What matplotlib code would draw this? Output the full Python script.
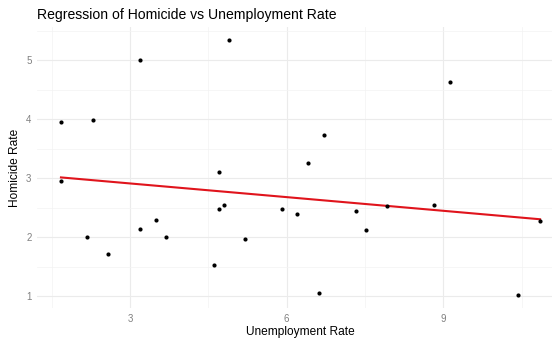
import numpy as np
import matplotlib
matplotlib.use("Agg")
import matplotlib.pyplot as plt
from matplotlib.ticker import MultipleLocator

plt.rcParams["font.family"] = ["Liberation Sans", "DejaVu Sans"]

unemployment = [1.68, 1.68, 2.29, 2.18, 2.58, 3.19, 3.19, 3.49, 3.69, 4.60,
                4.70, 4.70, 4.80, 4.90, 5.20, 5.91, 6.20, 6.41, 6.71, 6.62,
                7.32, 7.52, 7.92, 8.82, 9.13, 10.43, 10.85]
homicide = [3.96, 2.95, 3.99, 2.01, 1.72, 5.00, 2.15, 2.29, 2.01, 1.54,
            3.11, 2.49, 2.55, 5.35, 1.98, 2.48, 2.40, 3.26, 3.73, 1.06,
            2.45, 2.12, 2.54, 2.55, 4.64, 1.02, 2.27]

x = np.array(unemployment)
y = np.array(homicide)
slope, intercept = np.polyfit(x, y, 1)

W, H = 552, 340
fig = plt.figure(figsize=(W / 100, H / 100), dpi=100)
# panel runs a little past the right edge
left, right, top, bottom = 37, 564, 27, 308
ax = fig.add_axes([left / W, 1 - bottom / H, (right - left) / W, (bottom - top) / H])

xr = x.max() - x.min()
yr = y.max() - y.min()
ax.set_xlim(x.min() - 0.05 * xr, x.max() + 0.05 * xr)
ax.set_ylim(y.min() - 0.05 * yr, y.max() + 0.05 * yr)

ax.xaxis.set_major_locator(MultipleLocator(3))
ax.xaxis.set_minor_locator(MultipleLocator(1.5))
ax.yaxis.set_major_locator(MultipleLocator(1))
ax.yaxis.set_minor_locator(MultipleLocator(0.5))
ax.grid(which="major", color="#ebebeb", linewidth=0.8)
ax.grid(which="minor", color="#f3f3f3", linewidth=0.5)
ax.set_axisbelow(True)
for s in ax.spines.values():
    s.set_visible(False)
ax.tick_params(which="both", length=0, labelsize=7, labelcolor="#808080", pad=4)

ax.scatter(x, y, s=9, color="black", zorder=3, linewidths=0)
xs = np.array([x.min(), x.max()])
ax.plot(xs, intercept + slope * xs, color="#e0141c", linewidth=1.5, zorder=2)

ax.set_xlabel("Unemployment Rate", fontsize=8.6, labelpad=1.5)
ax.set_ylabel("Homicide Rate", fontsize=8.6, labelpad=4)
fig.text(left / W, 1 - 15 / H, "Regression of Homicide vs Unemployment Rate",
         fontsize=10.1, va="center", ha="left")

fig.savefig("out.png", dpi=100)
